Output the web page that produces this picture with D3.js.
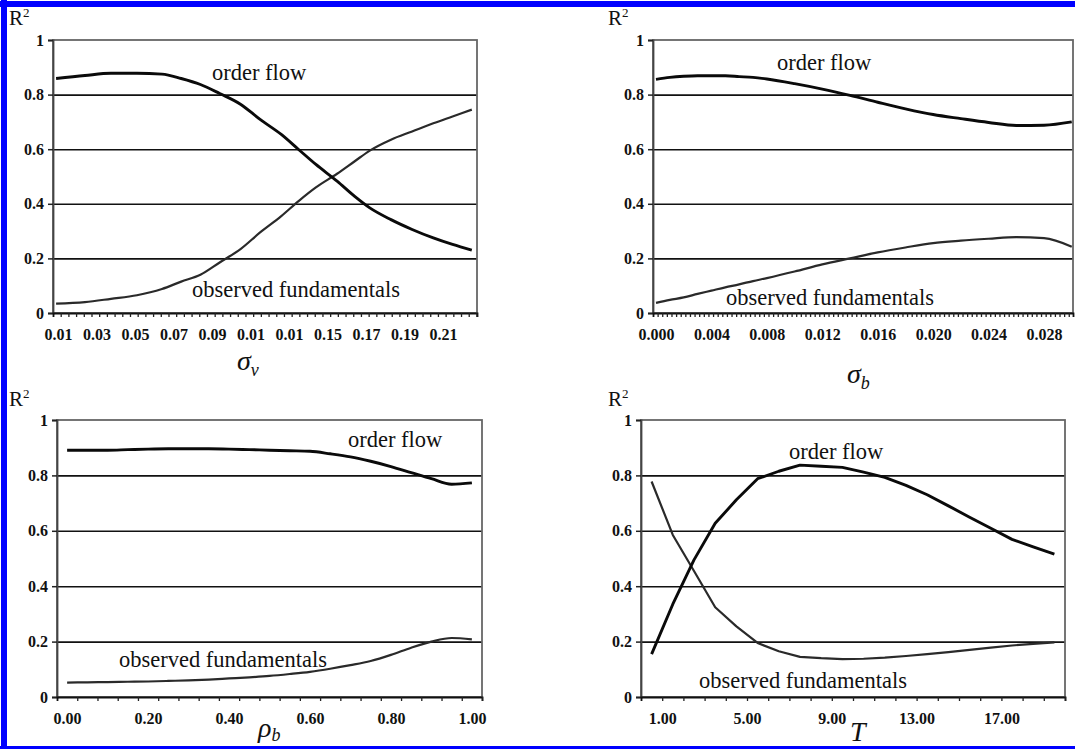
<!DOCTYPE html>
<html><head><meta charset="utf-8">
<script src="https://cdn.jsdelivr.net/npm/d3@7/dist/d3.min.js"></script>
<style>html,body{margin:0;padding:0;background:#fff;} svg{display:block;}</style>
</head><body>
<svg id="c" width="1075" height="749"></svg>
<script>
// ---------------- data ----------------
const yTickValues = [0, 0.2, 0.4, 0.6, 0.8, 1];
const yTickLabels = ["0", "0.2", "0.4", "0.6", "0.8", "1"];
const gridValues = [0.2, 0.4, 0.6, 0.8];

// panel 1: sigma_v
const sigmaVX = [0.009, 0.024, 0.0375, 0.051, 0.064, 0.074, 0.084, 0.094, 0.105, 0.115, 0.126, 0.135, 0.144, 0.155, 0.164, 0.172, 0.183, 0.194, 0.205, 0.215, 0.225];
const sigmaVOrderFlow = [0.859, 0.870, 0.878, 0.878, 0.875, 0.859, 0.837, 0.804, 0.764, 0.709, 0.654, 0.599, 0.544, 0.483, 0.428, 0.385, 0.342, 0.306, 0.275, 0.251, 0.230];
const sigmaVObserved = [0.034, 0.040, 0.052, 0.065, 0.088, 0.115, 0.140, 0.185, 0.235, 0.295, 0.355, 0.410, 0.460, 0.510, 0.555, 0.595, 0.635, 0.665, 0.695, 0.720, 0.745];
const sigmaVTickValues = [0.01, 0.03, 0.05, 0.07, 0.09, 0.11, 0.13, 0.15, 0.17, 0.19, 0.21];
const sigmaVTickLabels = ["0.01", "0.03", "0.05", "0.07", "0.09", "0.01", "0.01", "0.15", "0.17", "0.19", "0.21"];

// panel 2: sigma_b
const sigmaBX = [0, 0.001, 0.002, 0.003, 0.004, 0.005, 0.006, 0.007, 0.008, 0.010, 0.012, 0.014, 0.016, 0.018, 0.020, 0.022, 0.024, 0.026, 0.028, 0.030];
const sigmaBOrderFlow = [0.856, 0.863, 0.867, 0.869, 0.869, 0.869, 0.866, 0.863, 0.857, 0.840, 0.820, 0.797, 0.772, 0.748, 0.727, 0.712, 0.698, 0.687, 0.688, 0.700];
const sigmaBObserved = [0.037, 0.048, 0.057, 0.070, 0.082, 0.094, 0.105, 0.117, 0.128, 0.152, 0.178, 0.200, 0.222, 0.240, 0.256, 0.265, 0.272, 0.278, 0.274, 0.243];
const sigmaBTickValues = [0, 0.004, 0.008, 0.012, 0.016, 0.020, 0.024, 0.028];
const sigmaBTickLabels = ["0.000", "0.004", "0.008", "0.012", "0.016", "0.020", "0.024", "0.028"];

// panel 3: rho_b
const rhoX = [0, 0.05, 0.10, 0.15, 0.20, 0.25, 0.30, 0.35, 0.40, 0.45, 0.50, 0.55, 0.60, 0.65, 0.70, 0.75, 0.80, 0.85, 0.90, 0.95, 1.00];
const rhoOrderFlow = [0.891, 0.891, 0.891, 0.893, 0.895, 0.896, 0.896, 0.896, 0.895, 0.893, 0.891, 0.889, 0.887, 0.878, 0.867, 0.851, 0.832, 0.810, 0.788, 0.768, 0.773];
const rhoObserved = [0.052, 0.053, 0.054, 0.055, 0.056, 0.058, 0.060, 0.063, 0.067, 0.071, 0.076, 0.083, 0.091, 0.102, 0.115, 0.130, 0.152, 0.178, 0.200, 0.213, 0.208];
const rhoTickValues = [0, 0.2, 0.4, 0.6, 0.8, 1.0];
const rhoTickLabels = ["0.00", "0.20", "0.40", "0.60", "0.80", "1.00"];

// panel 4: T
const tX = [1, 2, 3, 4, 5, 6, 7, 8, 9, 10, 11, 12, 13, 14, 15, 16, 17, 18, 19, 20];
const tOrderFlow = [0.155, 0.335, 0.495, 0.627, 0.712, 0.788, 0.815, 0.837, 0.833, 0.829, 0.812, 0.793, 0.764, 0.730, 0.690, 0.649, 0.609, 0.569, 0.542, 0.516];
const tObserved = [0.778, 0.585, 0.455, 0.324, 0.255, 0.195, 0.165, 0.145, 0.140, 0.137, 0.138, 0.142, 0.148, 0.155, 0.162, 0.170, 0.178, 0.186, 0.192, 0.197];
const tTickValues = [1, 5, 9, 13, 17];
const tTickLabels = ["1.00", "5.00", "9.00", "13.00", "17.00"];

const seriesNames = ["order flow", "observed fundamentals"];

// ---------------- drawing ----------------
const svg = d3.select("#c");
svg.append("rect").attr("width", 1075).attr("height", 749).attr("fill", "#fff");

const SERIF = "'Liberation Serif', 'Times New Roman', serif";

const panels = [
  { x: sigmaVX, a: sigmaVOrderFlow, b: sigmaVObserved, tv: sigmaVTickValues, tl: sigmaVTickLabels,
    box: [53, 477, 40, 313], dom: [0.0074, 0.2277], minorStep: 0.004, minorStart: 0.0074, labelShift: 0,
    curve: d3.curveMonotoneX,
    r2: [9, 25], of: [212, 80], ob: [192, 297],
    title: { main: "σ", sub: "v", x: 237, y: 370, subDy: 6 } },
  { x: sigmaBX, a: sigmaBOrderFlow, b: sigmaBObserved, tv: sigmaBTickValues, tl: sigmaBTickLabels,
    box: [653, 1073, 40, 313], dom: [-0.000216, 0.03009], minorStep: 0.004 / 12, minorStart: -0.000216, labelShift: 0,
    curve: d3.curveMonotoneX,
    r2: [608, 25], of: [777, 70], ob: [726, 305],
    title: { main: "σ", sub: "b", x: 847, y: 383, subDy: 6 } },
  { x: rhoX, a: rhoOrderFlow, b: rhoObserved, tv: rhoTickValues, tl: rhoTickLabels,
    box: [57, 482, 420, 697], dom: [-0.025, 1.025], minorStep: 0.05, minorStart: -0.025, labelShift: 0,
    curve: d3.curveMonotoneX,
    r2: [9, 406], of: [348, 447], ob: [119, 667],
    title: { main: "ρ", sub: "b", x: 258, y: 737, subDy: 4 } },
  { x: tX, a: tOrderFlow, b: tObserved, tv: tTickValues, tl: tTickLabels,
    box: [641, 1065, 420, 697], dom: [0.5, 20.5], minorStep: 1, minorStart: 0.5, labelShift: 0.5,
    curve: d3.curveLinear,
    r2: [608, 406], of: [789, 459], ob: [699, 688],
    title: { main: "T", sub: "", x: 850, y: 741, subDy: 0 } }
];

panels.forEach(p => {
  const [x0, x1, y0, y1] = p.box;
  const w = x1 - x0, h = y1 - y0;
  const x = d3.scaleLinear().domain(p.dom).range([0, w]);
  const y = d3.scaleLinear().domain([0, 1]).range([h, 0]);
  const g = svg.append("g").attr("transform", `translate(${x0},${y0})`);

  // gridlines
  const grid = g.append("g").call(d3.axisLeft(y).tickValues(gridValues).tickSize(-w).tickFormat(""));
  grid.select(".domain").remove();
  grid.selectAll("line").attr("stroke", "#111").attr("stroke-width", 1.6);

  // plot border
  g.append("rect").attr("width", w).attr("height", h)
    .attr("fill", "none").attr("stroke", "#666").attr("stroke-width", 1.8);

  // y axis
  const ya = g.append("g").call(d3.axisLeft(y).tickValues(yTickValues).tickSize(5).tickPadding(4)
    .tickFormat((d, i) => yTickLabels[i]));
  ya.select(".domain").attr("stroke", "#444").attr("stroke-width", 1.8);
  ya.selectAll("line").attr("stroke", "#222").attr("stroke-width", 1.5);
  ya.selectAll("text").attr("font-family", SERIF).attr("font-weight", "bold")
    .attr("font-size", 16).attr("fill", "#111");

  // x minor ticks
  const minor = d3.range(p.minorStart + p.minorStep, p.dom[1] + p.minorStep * 0.01, p.minorStep);
  const xm = g.append("g").attr("transform", `translate(0,${h})`)
    .call(d3.axisBottom(x).tickValues(minor).tickSize(4).tickFormat(""));
  xm.select(".domain").attr("stroke", "#111").attr("stroke-width", 1.8);
  xm.selectAll("line").attr("stroke", "#222").attr("stroke-width", 1.3);

  // x labels
  const xl = g.append("g").attr("transform", `translate(0,${h})`)
    .call(d3.axisBottom(x).tickValues(p.tv.map(v => v + p.labelShift)).tickSize(0).tickPadding(16)
      .tickFormat((d, i) => p.tl[i]));
  xl.select(".domain").remove();
  xl.selectAll("text").attr("font-family", SERIF).attr("font-weight", "bold")
    .attr("font-size", 16).attr("fill", "#111");

  // lines
  const line = d3.line().x((d, i) => x(p.x[i])).y(d => y(d)).curve(p.curve);
  g.append("path").datum(p.b).attr("d", line).attr("fill", "none")
    .attr("stroke", "#2a2a2a").attr("stroke-width", 2.2).attr("stroke-linejoin", "round");
  g.append("path").datum(p.a).attr("d", line).attr("fill", "none")
    .attr("stroke", "#0a0a0a").attr("stroke-width", 2.9).attr("stroke-linejoin", "round");

  // series labels
  svg.append("text").attr("x", p.of[0]).attr("y", p.of[1]).text(seriesNames[0])
    .attr("font-family", SERIF).attr("font-size", 22.5).attr("fill", "#111");
  svg.append("text").attr("x", p.ob[0]).attr("y", p.ob[1]).text(seriesNames[1])
    .attr("font-family", SERIF).attr("font-size", 22.5).attr("fill", "#111");

  // R^2 label
  const r = svg.append("text").attr("x", p.r2[0]).attr("y", p.r2[1])
    .attr("font-family", SERIF).attr("font-size", 21).attr("fill", "#111");
  r.append("tspan").text("R");
  r.append("tspan").text("2").attr("font-size", 13).attr("dy", -8);

  // axis title
  const t = svg.append("text").attr("x", p.title.x).attr("y", p.title.y)
    .attr("font-family", SERIF).attr("font-style", "italic").attr("font-size", 28).attr("fill", "#111");
  t.append("tspan").text(p.title.main);
  if (p.title.sub) t.append("tspan").text(p.title.sub).attr("font-size", 18).attr("dy", p.title.subDy);
});

// blue frame
svg.append("rect").attr("x", 0).attr("y", 1).attr("width", 1075).attr("height", 6).attr("fill", "#0000ff");
svg.append("rect").attr("x", 1).attr("y", 0).attr("width", 6).attr("height", 749).attr("fill", "#0000ff");
svg.append("rect").attr("x", 0).attr("y", 746).attr("width", 1075).attr("height", 3).attr("fill", "#0000ff");
</script>
</body></html>
